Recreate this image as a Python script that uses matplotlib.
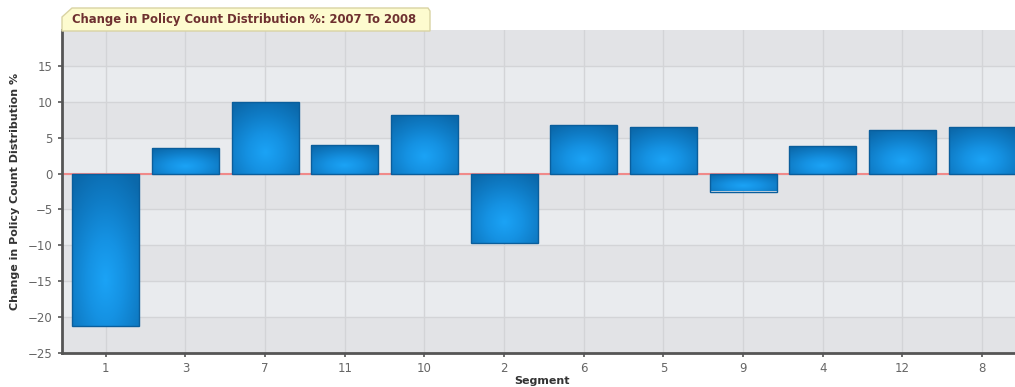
import numpy as np
import matplotlib
matplotlib.use("Agg")
import matplotlib.pyplot as plt
from matplotlib.patches import Polygon
from matplotlib.colors import LinearSegmentedColormap

segments = ["1", "3", "7", "11", "10", "2", "6", "5", "9", "4", "12", "8"]
change_pct = [-21.2, 3.5, 9.9, 4.0, 8.2, -9.7, 6.8, 6.5, -2.5, 3.9, 6.0, 6.5]
y_ticks = [-25, -20, -15, -10, -5, 0, 5, 10, 15]

W, H = 1015, 387
fig = plt.figure(figsize=(W / 100, H / 100), dpi=100)
fig.patch.set_facecolor("white")
ax = fig.add_axes([62 / W, 34 / H, 960 / W, 323 / H])

x = np.arange(len(segments))
ax.set_xlim(-0.55, len(segments) - 0.5)
ax.set_ylim(-25, 20)

# alternating bands
for k, lo in enumerate(range(-25, 20, 5)):
    c = "#e2e3e6" if k % 2 == 0 else "#e9ebee"
    ax.axhspan(lo, lo + 5, color=c, zorder=0, lw=0)
ax.set_axisbelow(True)
ax.grid(True, color="#d3d4d7", lw=1, zorder=0.5)

# zero line
ax.axhline(0, color="#f08a8a", lw=1.5, zorder=1)

bars = ax.bar(x, change_pct, width=0.84, color="none", edgecolor="#0a5e9c",
              lw=1.0, zorder=3)

# radial-ish gradient fill for each bar
cmap = LinearSegmentedColormap.from_list("blu", ["#1ba3f6", "#1592e3", "#0f7cc6", "#0b68aa"])
gy, gx = np.mgrid[0:1:100j, 0:1:100j]
for b, v in zip(bars, change_pct):
    x0 = b.get_x()
    w = b.get_width()
    y0, y1 = (0, v) if v >= 0 else (v, 0)
    d = np.sqrt(((gx - 0.5) / 0.8) ** 2 + ((gy - 0.3) / 0.8) ** 2)
    d = np.clip(d, 0, 1)
    im = ax.imshow(d, extent=[x0, x0 + w, y0, y1], origin="lower", cmap=cmap,
                   vmin=0, vmax=1, aspect="auto", zorder=2, interpolation="bilinear")
    im.set_clip_path(b)

ax.set_xticks(x)
ax.set_xticklabels(segments)
ax.set_yticks(y_ticks)
ax.tick_params(axis="both", colors="#555555", labelcolor="#666666",
               labelsize=8.5, length=3, width=1.2)
for s in ["top", "right"]:
    ax.spines[s].set_visible(False)
for s in ["left", "bottom"]:
    ax.spines[s].set_color("#555555")
    ax.spines[s].set_linewidth(2)

ax.set_xlabel("Segment", fontsize=8, fontweight="bold", color="#333333", labelpad=1)
ax.set_ylabel("Change in Policy Count Distribution %", fontsize=8,
              fontweight="bold", color="#333333", labelpad=6)

# title tab
def px(xp, yp):
    return (xp / W, 1 - yp / H)
tab = Polygon([px(62, 31), px(62, 17), px(72, 8), px(428, 8), px(430, 11), px(430, 31)],
              closed=True, transform=fig.transFigure, facecolor="#fdfbcf",
              edgecolor="#d9d3a3", lw=1, zorder=5)
fig.patches.append(tab)
fig.text(72 / W, 1 - 20 / H, "Change in Policy Count Distribution %: 2007 To 2008",
         fontsize=8.4, fontweight="bold", color="#6e3030", va="center", ha="left",
         zorder=6)

fig.savefig("out.png", dpi=100)
